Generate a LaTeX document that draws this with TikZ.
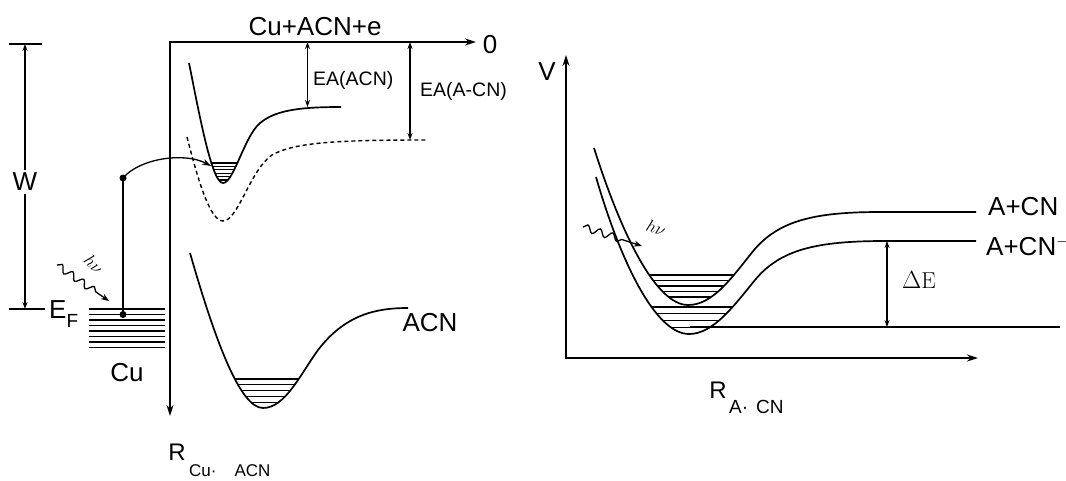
\documentclass[tikz,border=0pt]{standalone}
\usepackage{fontspec}
\newfontfamily\sansfam{Liberation Sans}
\usetikzlibrary{arrows.meta,decorations.pathmorphing}
\begin{document}
\begin{tikzpicture}[x=1pt,y=-1pt,
  curve/.style={line width=1.7pt},
  lvl/.style={line width=1.1pt},
  thinline/.style={line width=1.3pt},
  axisline/.style={line width=1.7pt,{Stealth[length=11pt,width=7pt]}-{Stealth[length=11pt,width=7pt]}},
  dimarrow/.style={line width=1.1pt,{Stealth[length=7pt,width=5pt]}-{Stealth[length=7pt,width=5pt]}},
  big/.style={font=\sansfam\fontsize{26}{30}\selectfont, inner sep=0pt},
  rlab/.style={font=\sansfam\fontsize{24}{28}\selectfont, inner sep=0pt},
  mid/.style={font=\sansfam\fontsize{19.5}{23}\selectfont, inner sep=0pt},
  sub/.style={font=\sansfam\fontsize{17}{20}\selectfont, inner sep=0pt},
  hvlab/.style={font=\fontsize{19}{22}\selectfont, inner sep=0pt},
  photon/.style={line width=1.3pt, decorate, decoration={snake, amplitude=3.5pt, segment length=13pt, post length=#1}},
  dotnode/.style={circle, fill, inner sep=0pt, minimum size=7pt}
]
\useasboundingbox (0,0) rectangle (1066,480);

% ---------------- left panel ----------------
\def\pathA{(189,63) .. controls (200,118) and (212,183) .. (223,183) .. controls (233,183) and (243,142) .. (257,126) .. controls (272,110) and (300,107) .. (341,107)}
\def\pathB{(190,253) .. controls (215,340) and (240,408) .. (263,408) .. controls (285,408) and (300,375) .. (318,350) .. controls (345,315) and (375,308) .. (408,308)}

\coordinate (O1) at (170,42);
\coordinate (X1) at (476,42);
\coordinate (Y1) at (170,416);
\draw[axisline] (X1) -- (O1) -- (Y1);
\node[big] (zero) at (490,45) {0};
\node[big] (top) at (315,27) {Cu+ACN+e};

% work function
\coordinate (Wtl) at (9,44); \coordinate (Wtr) at (42,44);
\coordinate (Wbl) at (9,309); \coordinate (Wbr) at (45,309);
\coordinate (Wt) at (25,44); \coordinate (Wb) at (25,309);
\draw[thinline] (Wtl) -- (Wtr);
\draw[thinline] (Wbl) -- (Wbr);
\draw[dimarrow] (Wt) -- (Wb);
\node[big, fill=white, inner sep=3pt] (W) at (25,182) {W};
\node[big, anchor=base west] (EF) at (49,318) {E\raisebox{-9pt}{\fontsize{19}{20}\selectfont F}};

% Cu levels
\foreach \i in {0,...,7} {
  \draw[lvl] (89,{309+5.5*\i}) -- (165,{309+5.5*\i});
}
\node[big] (cu) at (127,373) {Cu};

% upper well levels
\begin{scope}
  \clip \pathA -- cycle;
  \foreach \i in {0,...,5} {
    \draw[lvl] (185,{163+3.4*\i}) -- (265,{163+3.4*\i});
  }
\end{scope}
\draw[curve] \pathA;
\draw[dash pattern=on 4pt off 3pt, line width=1.4pt] (187,137) .. controls (198,180) and (210,221) .. (223,221) .. controls (238,221) and (250,170) .. (272,155) .. controls (295,142) and (340,140) .. (427,140);

% lower well levels
\begin{scope}
  \clip \pathB -- cycle;
  \foreach \i in {0,...,4} {
    \draw[lvl] (200,{379+5.8*\i}) -- (330,{379+5.8*\i});
  }
\end{scope}
\draw[curve] \pathB;
\node[big] (acn) at (430,323) {ACN};

% electron transfer
\node[dotnode] (dEF) at (123,314.5) {};
\node[dotnode] (dUp) at (123,178) {};
\coordinate (ae) at (211,166);
\draw[thinline] (dEF.center) -- (dUp.center);
\draw[thinline,-{Stealth[length=9pt,width=6pt]}] (dUp.center) .. controls (140,158) and (185,152) .. (ae);

% photon left
\coordinate (p1s) at (57,265); \coordinate (p1e) at (109,301);
\draw[photon=12pt,-{Stealth[length=8pt,width=6pt]}] (p1s) -- (p1e);
\node[hvlab, rotate=-45] (hv1) at (94,264) {$h\nu$};

% EA arrows
\coordinate (ea1t) at (307.5,42); \coordinate (ea1b) at (307.5,107);
\draw[dimarrow] (ea1t) -- (ea1b);
\node[mid, anchor=west] (ea1) at (313,80) {EA(ACN)};
\coordinate (ea2t) at (410,42); \coordinate (ea2b) at (410,140);
\draw[dimarrow] (ea2t) -- (ea2b);
\node[mid, anchor=west] (ea2) at (420,91) {EA(A-CN)};

% R label left
\node[rlab] (R1) at (177,452) {R};
\node[sub, anchor=west] (R1s) at (189,471) {Cu·\hspace{18pt}ACN};

% ---------------- right panel ----------------
\def\pathC{(594,148) .. controls (620,230) and (655,305) .. (688,305) .. controls (712,305) and (730,280) .. (750,255) .. controls (775,222) and (810,212) .. (880,212) -- (976,212)}
\def\pathD{(596,177) .. controls (620,260) and (655,334) .. (689,334) .. controls (713,334) and (733,307) .. (755,280) .. controls (780,250) and (815,241) .. (885,241) -- (976,241)}

\coordinate (O2) at (566,358); \coordinate (Y2) at (566,55); \coordinate (X2) at (978,358);
\draw[axisline] (Y2) -- (O2) -- (X2);
\node[big] (V) at (547,72) {V};

\begin{scope}
  \clip \pathC -- cycle;
  \foreach \i in {0,...,4} {
    \draw[lvl] (620,{275+5.5*\i}) -- (770,{275+5.5*\i});
  }
\end{scope}
\begin{scope}
  \clip \pathD -- cycle;
  \foreach \i in {0,...,3} {
    \draw[lvl] (620,{307+6.7*\i}) -- (770,{307+6.7*\i});
  }
\end{scope}
\draw[curve] \pathC;
\draw[curve] \pathD;
\coordinate (bl) at (690,327.1); \coordinate (br) at (1060,327.1);
\draw[thinline] (bl) -- (br);

\node[big, anchor=west] (acn1) at (988,207) {A+CN};
\node[big, anchor=west] (acn2) at (986,246) {A+CN$^{-}$};

\coordinate (dEt) at (887,241); \coordinate (dEb) at (887,327);
\draw[dimarrow] (dEt) -- (dEb);
\node[font=\fontsize{23}{26}\selectfont, inner sep=0pt] (dE) at (919,280) {$\Delta$E};

% photon right
\coordinate (p2s) at (583,227); \coordinate (p2e) at (642,246);
\draw[photon=18pt,-{Stealth[length=8pt,width=6pt]}] (p2s) -- (p2e);
\node[hvlab, rotate=-18] (hv2) at (656,228) {$h\nu$};

\node[rlab] (R2) at (718,390) {R};
\node[font=\sansfam\fontsize{19}{22}\selectfont, inner sep=0pt, anchor=west] (R2s) at (729,407) {A·\hspace{8pt}CN};
\end{tikzpicture}
\end{document}
